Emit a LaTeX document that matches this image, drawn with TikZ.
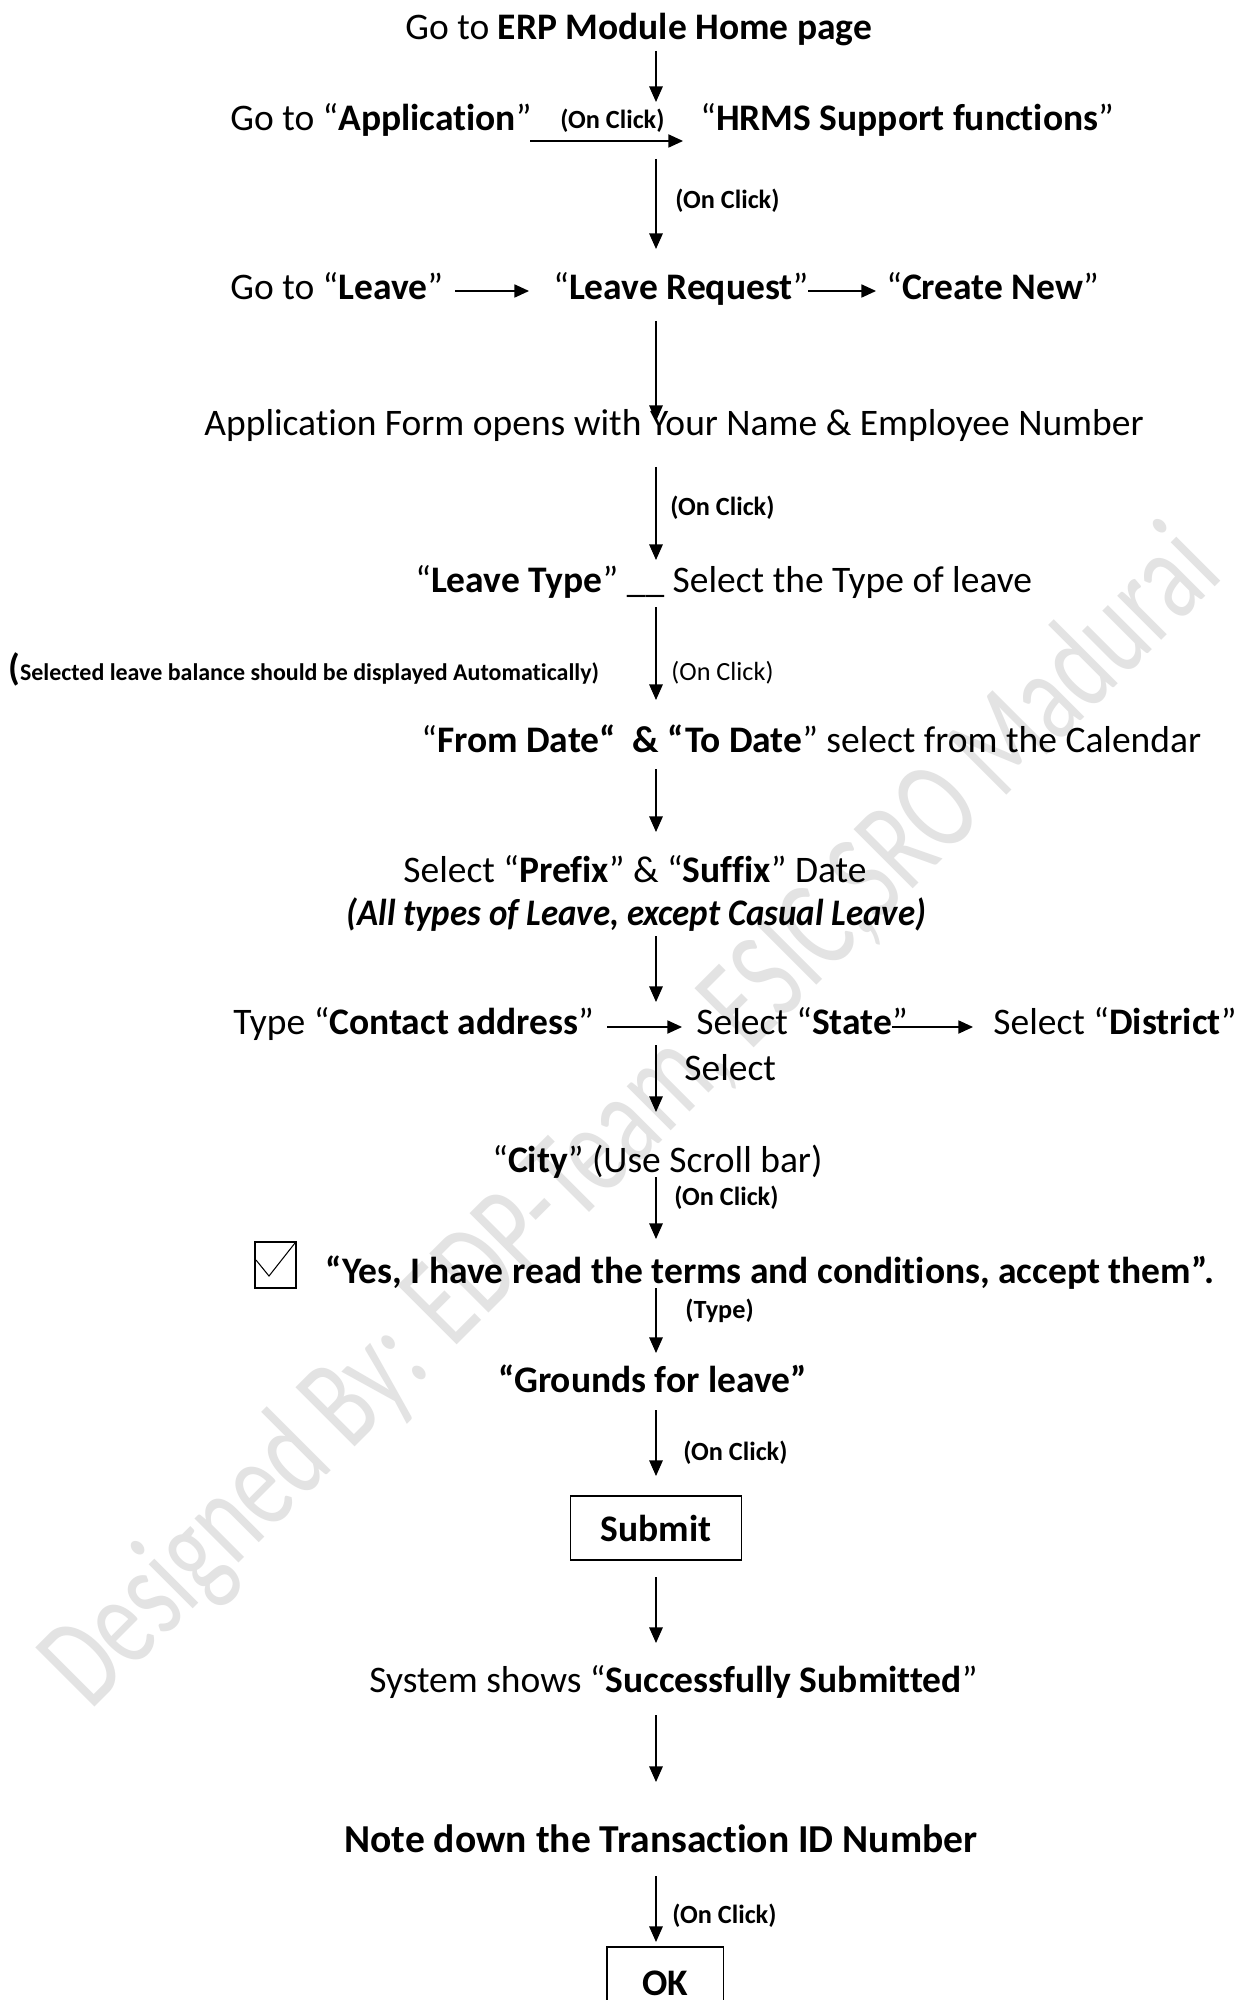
\documentclass[tikz,border=0pt]{standalone}
\usepackage{fontspec}
\setmainfont{Carlito}[Ligatures=NoCommon]
\usetikzlibrary{arrows.meta}
\tikzset{
  txt/.style={inner sep=0pt, anchor=west, text height=11.6pt, text depth=0pt,
    font=\fontsize{18pt}{21pt}\selectfont},
  smalllbl/.style={inner sep=0pt, anchor=west, text height=8.1pt, text depth=0pt,
    font=\fontsize{12.6pt}{15pt}\selectfont\bfseries},
  smallreg/.style={smalllbl, font=\fontsize{12.6pt}{15pt}\selectfont},
  varr/.style={line width=0.65pt, -{Triangle[length=7.5pt,width=6.5pt]}},
  harr/.style={line width=0.65pt, -{Triangle[length=7pt,width=6.3pt]}},
  btn/.style={draw, line width=0.8pt, inner sep=0pt, font=\fontsize{18pt}{21pt}\selectfont\bfseries},
  wmark/.style={text=black!11, inner sep=0pt, anchor=base west, rotate=45}
}
\begin{document}
\begin{tikzpicture}[x=0.48pt,y=-0.48pt]
\fill[white] (0,0) rectangle (1240,2000);
\useasboundingbox (0,0) rectangle (1240,2000);
% watermark
\node[wmark] (wm) at (90,1712) {\scalebox{1}[1.41]{\fontsize{44.4pt}{50pt}\selectfont Designed By: EDP-Team, ESIC,SRO Madurai}};
% texts
\node[txt] (erp) at (405,27) {Go to \textbf{ERP Module Home page}};
\node[txt] (app) at (230,118) {Go to “\textbf{Application}”};
\node[smalllbl] (oc1) at (560,120) {(On Click)};
\node[txt] (hrms) at (700,118) {“\textbf{HRMS Support functions}”};
\node[smalllbl] (oc2) at (675,200) {(On Click)};
\node[txt] (leave) at (230,287) {Go to “\textbf{Leave}”};
\node[txt] (lreq) at (553,287) {“\textbf{Leave Request}”};
\node[txt] (cnew) at (886,287) {“\textbf{Create New}”};
\node[txt] (form) at (204,423) {Application Form opens with Your Name \& Employee Number};
\node[smalllbl] (oc3) at (670,507) {(On Click)};
\node[txt] (ltype) at (415,580) {“\textbf{Leave Type}” \_\_ Select the Type of leave};
\node[smalllbl, font=\fontsize{11.5pt}{14pt}\selectfont\bfseries] (bal) at (8,672) {{\fontsize{18pt}{21pt}\selectfont(}Selected leave balance should be displayed Automatically)};
\node[smallreg] (oc4) at (671,672) {(On Click)};
\node[txt] (dates) at (421,740) {“\textbf{From Date“~ \& “To Date}” select from the Calendar};
\node[txt] (prefix) at (403,870) {Select “\textbf{Prefix}” \& “\textbf{Suffix}” Date};
\node[txt, font=\fontsize{18pt}{21pt}\selectfont\bfseries\itshape] (alltypes) at (346,913) {\scalebox{0.93}[1]{(All types of Leave, except Casual Leave)}};
\node[txt] (contact) at (233,1022) {Type “\textbf{Contact address}”};
\node[txt] (state) at (696,1022) {Select “\textbf{State}”};
\node[txt] (district) at (993,1022) {Select “\textbf{District}”};
\node[txt] (sel) at (684,1068) {Select};
\node[txt] (city) at (492,1160) {“\textbf{City}” (Use Scroll bar)};
\node[smalllbl] (oc5) at (674,1197) {(On Click)};
\node[txt, font=\fontsize{18pt}{21pt}\selectfont\bfseries] (yes) at (325,1271) {“Yes, I have read the terms and conditions, accept them”.};
\node[smalllbl] (typ) at (685,1310) {(Type)};
\node[txt, font=\fontsize{18pt}{21pt}\selectfont\bfseries] (grounds) at (498,1380) {“Grounds for leave”};
\node[smalllbl] (oc6) at (683,1452) {(On Click)};
\node[btn, minimum width=82pt, minimum height=30.7pt] (submit) at (656,1528) {Submit};
\node[txt] (sys) at (369,1680) {System shows “\textbf{Successfully Submitted}”};
\node[txt, font=\fontsize{19pt}{22pt}\selectfont\bfseries] (note) at (344,1840) {Note down the Transaction ID Number};
\node[smalllbl] (oc7) at (672,1915) {(On Click)};
\node[btn, minimum width=56pt, minimum height=35pt] (ok) at (665,1983.5) {OK};
% checkbox
\draw[line width=0.7pt] (255,1242) rectangle (296,1288);
\draw[line width=0.5pt] (256,1260) -- (269,1276) -- (295,1243);
% connectors
\foreach \n/\a/\b in {1/51/102, 2/159/249, 3/321/421, 4/467/560, 5/607/700, 6/769/832,
  7/936/1002, 8/1045/1112, 9/1177/1239, 10/1288/1353, 11/1410/1476, 12/1577/1643,
  13/1715/1782, 14/1876/1942}{
  \coordinate (v\n s) at (656,\a);
  \coordinate (v\n e) at (656,\b);
  \draw[varr] (v\n s) -- (v\n e);
}
\coordinate (h1s) at (530,141); \coordinate (h1e) at (683,141);
\coordinate (h2s) at (455,291); \coordinate (h2e) at (529,291);
\coordinate (h3s) at (808,291); \coordinate (h3e) at (876,291);
\coordinate (h4s) at (607,1027); \coordinate (h4e) at (682,1027);
\coordinate (h5s) at (892,1027); \coordinate (h5e) at (973,1027);
\draw[harr] (h1s) -- (h1e);
\draw[harr] (h2s) -- (h2e);
\draw[harr] (h3s) -- (h3e);
\draw[harr] (h4s) -- (h4e);
\draw[harr] (h5s) -- (h5e);
\end{tikzpicture}
\end{document}
